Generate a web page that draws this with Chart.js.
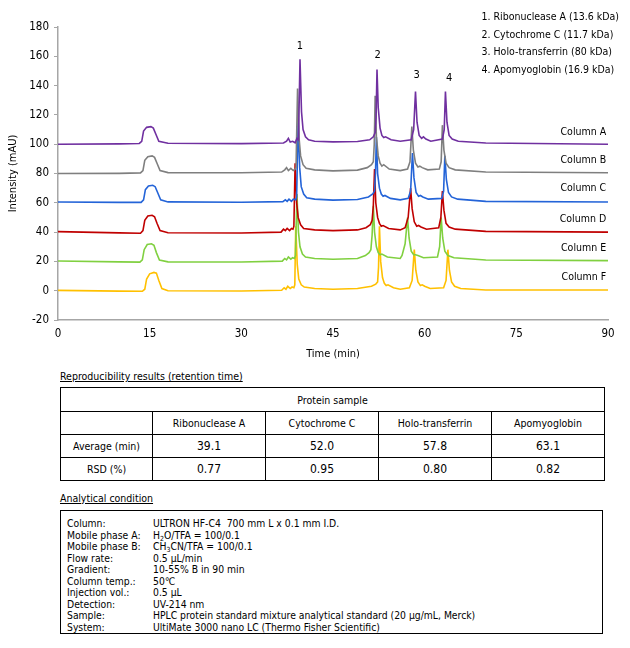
<!DOCTYPE html>
<html>
<head>
<meta charset="utf-8">
<script src="https://cdn.jsdelivr.net/npm/chart.js@4.4.1/dist/chart.umd.min.js"></script>
<style>
  body { margin: 0; background: #fff; }
  #page { position: relative; width: 630px; height: 648px; font-family: "DejaVu Sans Condensed", "Liberation Sans", sans-serif; color: #000; }
  #chartBox { position: absolute; left: 0; top: 0; width: 630px; height: 365px; }
  .caption { position: absolute; left: 60px; font-size: 10.5px; text-decoration: underline; }
  #repro { position: absolute; left: 60px; top: 387px; width: 545px; border-collapse: collapse; font-size: 10.5px; }
  #repro td { border: 1px solid #000; text-align: center; height: 22px; padding: 0; }
  #repro td.num { font-size: 12px; }
  #cond { position: absolute; left: 60px; top: 510px; width: 541px; height: 122px; border: 1.5px solid #000; font-size: 10.3px; }
  #cond .row { position: absolute; left: 6px; height: 12px; line-height: 12px; white-space: nowrap; }
  #cond .lab { display: inline-block; width: 86px; }
  sub { font-size: 7px; vertical-align: -2px; line-height: 0; }
</style>
</head>
<body>
<div id="page">
  <div id="chartBox"><canvas id="chromChart" width="630" height="365"></canvas></div>
  <div class="caption" style="top:370px">Reproducibility results (retention time)</div>
  <table id="repro"></table>
  <div class="caption" style="top:492px">Analytical condition</div>
  <div id="cond"></div>
</div>
<script>
// chromatograms (time in min, intensity in mAU)
const tA = [0, 10, 13.3, 13.7, 14.0, 14.5, 15.2, 15.6, 16.0, 16.5, 18, 30, 36.9, 37.4, 37.7, 38.0, 38.4, 38.8, 39.1, 39.35, 39.6, 39.85, 40.1, 40.5, 41.0, 42, 45, 49, 51.0, 51.6, 51.9, 52.05, 52.2, 52.4, 52.7, 53.0, 53.3, 53.6, 54.5, 56, 57.8, 58.2, 58.5, 58.75, 59.1, 59.5, 59.8, 60.2, 61, 62.9, 63.2, 63.4, 63.65, 64.0, 64.5, 65.5, 70, 90]
const yA = [100, 100.2, 100.5, 102, 109, 111.5, 112, 111, 107, 102, 100.6, 100.4, 100.8, 102, 104, 101.5, 102, 101, 104, 103, 158, 122, 110, 105, 103, 102, 101.6, 101.8, 103, 105, 108, 118, 151, 125, 111, 106, 104.5, 105, 103, 102, 103, 110, 136, 115, 106, 104, 105, 103.5, 102, 103.5, 110, 136, 115, 106, 103.5, 102, 100.8, 100]

const tB = [0, 10, 13.5, 13.9, 14.2, 14.7, 15.4, 15.8, 16.2, 16.7, 18, 30, 36.6, 37.1, 37.4, 37.7, 38.1, 38.5, 38.8, 38.95, 39.2, 39.45, 39.7, 40.1, 40.6, 42, 45, 49, 50.6, 51.3, 51.6, 51.75, 51.9, 52.1, 52.4, 52.7, 53.0, 53.3, 54.2, 56, 57.2, 57.6, 57.9, 58.15, 58.5, 58.9, 59.2, 59.6, 60.5, 62.4, 62.7, 62.9, 63.15, 63.5, 64.0, 65.0, 70, 90]
const yB = [80, 80.1, 80.4, 82, 89, 91.5, 92, 91, 87, 82, 80.6, 80.5, 81, 82.5, 84, 82, 83.5, 82, 83, 84, 138, 104, 92, 86, 83.5, 82.5, 81.8, 82.3, 84, 86, 88, 100, 133, 105, 92, 87, 85, 86, 83, 82, 83, 88, 112, 96, 87, 84.5, 85, 84, 82.5, 83, 88, 113, 96, 87, 84, 82.5, 81, 80.5]

const tC = [0, 10, 13.6, 14.0, 14.3, 14.8, 15.5, 15.9, 16.3, 16.8, 18, 30, 36.8, 37.2, 37.5, 37.8, 38.2, 38.5, 38.9, 39.05, 39.3, 39.55, 39.8, 40.2, 40.7, 42, 45, 49, 50.8, 51.5, 51.8, 51.95, 52.1, 52.3, 52.6, 52.9, 53.2, 53.5, 54.4, 56, 57.3, 57.7, 58.0, 58.25, 58.6, 59.0, 59.3, 59.7, 60.6, 62.8, 63.1, 63.3, 63.55, 63.9, 64.4, 65.4, 70, 90]
const yC = [60.5, 60.3, 60.3, 62, 69, 71.5, 72, 71, 67, 62, 60.6, 60.4, 60.8, 62, 61, 62.5, 61, 62.5, 62, 64, 116, 84, 71, 66, 63.5, 62.5, 61.8, 62.2, 64, 66, 68, 80, 105, 80, 70, 66, 64.5, 65, 63, 62, 63, 68, 94, 77, 67, 64.5, 65, 64, 62.5, 63, 68, 92, 76, 67, 64, 62.5, 61, 60.5]

const tD = [0, 10, 13.5, 13.9, 14.2, 14.7, 15.4, 15.8, 16.2, 16.7, 18, 30, 36.5, 36.9, 37.2, 37.5, 37.9, 38.2, 38.45, 38.6, 38.8, 39.05, 39.3, 39.7, 40.2, 42, 45, 49, 50.4, 51.1, 51.4, 51.6, 51.8, 52.0, 52.3, 52.6, 52.9, 53.2, 54.1, 56, 56.8, 57.3, 57.7, 57.95, 58.3, 58.7, 59.0, 59.4, 60.3, 62.3, 62.65, 62.9, 63.15, 63.5, 64.0, 65.0, 70, 90]
const yD = [40.3, 39.5, 39.2, 41, 48, 51, 51.5, 50.5, 46, 41, 39.6, 39.4, 40, 42, 41, 42.5, 41, 42.5, 42, 44, 87, 60, 50, 45, 42.5, 41.5, 41, 41.5, 43, 45, 48, 58, 83, 60, 50, 46, 44, 44.5, 42.5, 41.5, 43, 50, 70, 56, 47, 44, 44.5, 43.5, 42, 43, 50, 68, 55, 46, 43.5, 42, 40.5, 40]

const tE = [0, 10, 13.4, 13.8, 14.1, 14.6, 15.3, 15.7, 16.1, 16.6, 18, 30, 36.7, 37.1, 37.4, 37.7, 38.1, 38.4, 38.7, 38.85, 39.1, 39.35, 39.6, 40.0, 40.5, 42, 45, 49, 50.3, 50.9, 51.2, 51.4, 51.6, 51.8, 52.1, 52.4, 52.7, 53.0, 53.9, 56, 56.3, 56.8, 57.2, 57.45, 57.8, 58.2, 58.5, 58.9, 59.8, 62.1, 62.45, 62.7, 62.95, 63.3, 63.8, 64.8, 70, 90]
const yE = [20.3, 19.7, 19.5, 21, 28, 31.5, 32, 31, 26, 21, 19.7, 19.6, 20.2, 22, 21, 23, 21.5, 22.5, 22, 24, 66, 40, 30, 25, 23, 22, 21.5, 22, 24, 26, 28, 38, 58, 40, 30, 26, 24.5, 25, 23, 22, 24, 32, 50, 36, 27, 24.5, 24.5, 24, 22.5, 23, 30, 50, 36, 27, 24, 22.5, 21, 20.5]

const tF = [0, 10, 13.8, 14.2, 14.5, 15.0, 15.7, 16.1, 16.5, 17.0, 18, 30, 36.6, 37.0, 37.3, 37.6, 38.0, 38.3, 38.6, 38.75, 38.9, 39.15, 39.4, 39.8, 40.3, 42, 45, 49, 51.3, 52.0, 52.3, 52.45, 52.6, 52.8, 53.1, 53.4, 53.7, 54.0, 54.9, 56, 57.5, 57.95, 58.3, 58.55, 58.9, 59.3, 59.6, 60.0, 60.9, 63.1, 63.5, 63.8, 64.05, 64.4, 64.9, 65.9, 70, 90]
const yF = [0.2, -0.3, -0.4, 1, 8, 11.5, 12.5, 12, 7, 1.5, 0, -0.2, 0.3, 2, 1, 3, 1.5, 2.5, 2, 4, 44, 18, 8, 4, 2.5, 1.5, 1, 1.5, 3, 4.5, 6, 16, 44, 20, 9, 5, 3.5, 4, 2, 1, 2, 7, 28, 14, 6, 3.5, 4, 3, 1.5, 2, 7, 28, 14, 6, 3, 1.5, 0.5, 0.5]

const columnNames = ['Column A', 'Column B', 'Column C', 'Column D', 'Column E', 'Column F']
const columnColors = ['#7030a0', '#7f7f7f', '#2464d8', '#c00000', '#80d040', '#ffc000']
const columnLabelY = [108, 89, 70, 48.5, 29, 9.5]

const peakNames = ['1', '2', '3', '4']
const peakLabelX = [39.6, 52.3, 58.7, 64.0]
const peakLabelY = [167, 161, 147, 145]

const legendLines = ['1. Ribonuclease A (13.6 kDa)', '2. Cytochrome C (11.7 kDa)', '3. Holo-transferrin (80 kDa)', '4. Apomyoglobin (16.9 kDa)']
const legendY = [186.5, 174.5, 162.5, 150.5]

const xTicks = [0, 15, 30, 45, 60, 75, 90]
const yTicks = [-20, 0, 20, 40, 60, 80, 100, 120, 140, 160, 180]

const proteins = ['Ribonuclease A', 'Cytochrome C', 'Holo-transferrin', 'Apomyoglobin']
const averageMin = ['39.1', '52.0', '57.8', '63.1']
const rsdPct = ['0.77', '0.95', '0.80', '0.82']

const condLabels = ['Column:', 'Mobile phase A:', 'Mobile phase B:', 'Flow rate:', 'Gradient:', 'Column temp.:', 'Injection vol.:', 'Detection:', 'Sample:', 'System:']
const condValues = [
  'ULTRON HF-C4&nbsp; 700 mm L x 0.1 mm I.D.',
  'H<sub>2</sub>O/TFA = 100/0.1',
  'CH<sub>3</sub>CN/TFA = 100/0.1',
  '0.5 \u00b5L/min',
  '10-55% B in 90 min',
  '50\u2103',
  '0.5 \u00b5L',
  'UV-214 nm',
  'HPLC protein standard mixture analytical standard (20 \u00b5g/mL, Merck)',
  'UltiMate 3000 nano LC (Thermo Fisher Scientific)'
]

const FONT = '"DejaVu Sans Condensed", "Liberation Sans", sans-serif'

function toPoints(ts, ys) {
  return ts.map((t, i) => ({ x: t, y: ys[i] }))
}

const series = [[tA, yA], [tB, yB], [tC, yC], [tD, yD], [tE, yE], [tF, yF]]

const textPlugin = {
  id: 'chromText',
  afterDatasetsDraw(chart) {
    const c = chart.ctx
    const xs = chart.scales.x
    const ys = chart.scales.y
    c.save()
    c.fillStyle = '#000'
    c.textBaseline = 'middle'
    c.font = `10.5px ${FONT}`
    c.textAlign = 'right'
    columnNames.forEach((n, i) => c.fillText(n, xs.getPixelForValue(89.7), ys.getPixelForValue(columnLabelY[i])))
    c.textAlign = 'center'
    c.font = `11px ${FONT}`
    peakNames.forEach((n, i) => c.fillText(n, xs.getPixelForValue(peakLabelX[i]), ys.getPixelForValue(peakLabelY[i])))
    c.textAlign = 'left'
    c.font = `10.5px ${FONT}`
    legendLines.forEach((n, i) => c.fillText(n, xs.getPixelForValue(69.3), ys.getPixelForValue(legendY[i])))
    c.restore()
  }
}

function initChart() {
  const canvas = document.getElementById('chromChart')
  new Chart(canvas, {
    type: 'line',
    data: {
      datasets: series.map((s, i) => ({
        label: columnNames[i],
        data: toPoints(s[0], s[1]),
        borderColor: columnColors[i],
        borderWidth: 1.6,
        pointRadius: 0,
        tension: 0,
        fill: false
      }))
    },
    options: {
      responsive: false,
      animation: false,
      layout: { padding: { top: 27, right: 22, left: 0, bottom: 0 } },
      plugins: { legend: { display: false }, tooltip: { enabled: false } },
      scales: {
        x: {
          type: 'linear',
          min: 0,
          max: 90,
          afterBuildTicks: s => { s.ticks = xTicks.map(v => ({ value: v })) },
          afterFit: s => { s.height = 45 },
          ticks: { color: '#000', font: { family: FONT, size: 11.5 }, padding: 7 },
          grid: { drawOnChartArea: false, drawTicks: false },
          border: { color: '#a6a6a6', width: 1.5 },
          title: { display: true, text: 'Time (min)', color: '#000', font: { family: FONT, size: 11 }, padding: { top: 10 } }
        },
        y: {
          min: -20,
          max: 180,
          afterBuildTicks: s => { s.ticks = yTicks.map(v => ({ value: v })) },
          afterFit: s => { s.width = 58 },
          ticks: { color: '#000', font: { family: FONT, size: 11.5 }, padding: 5 },
          grid: { drawOnChartArea: false, drawTicks: true, tickLength: 4, color: '#a6a6a6' },
          border: { color: '#a6a6a6', width: 1.5 },
          title: { display: true, text: 'Intensity (mAU)', color: '#000', font: { family: FONT, size: 11 }, padding: { top: 7, bottom: 0 } }
        }
      }
    },
    plugins: [textPlugin]
  })
}

function buildTables() {
  const t = document.getElementById('repro')
  let html = '<tr><td colspan="5" style="height:23px">Protein sample</td></tr>'
  html += '<tr><td style="width:91px"></td>' + proteins.map(p => `<td style="width:112px">${p}</td>`).join('') + '</tr>'
  html += '<tr><td>Average (min)</td>' + averageMin.map(v => `<td class="num">${v}</td>`).join('') + '</tr>'
  html += '<tr><td>RSD (%)</td>' + rsdPct.map(v => `<td class="num">${v}</td>`).join('') + '</tr>'
  t.innerHTML = html
  const box = document.getElementById('cond')
  box.innerHTML = condLabels.map((l, i) =>
    `<div class="row" style="top:${6 + i * 11.5}px"><span class="lab">${l}</span>${condValues[i]}</div>`).join('')
}

initChart()
buildTables()
</script>
</body>
</html>
